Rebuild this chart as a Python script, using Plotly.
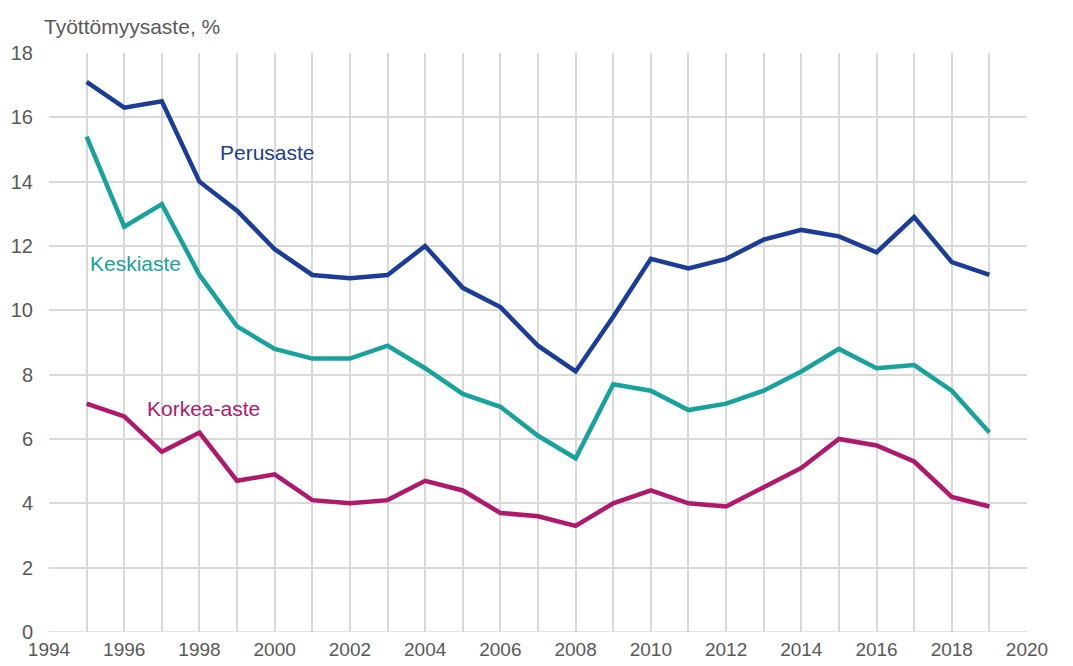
import plotly.graph_objects as go

# Työttömyysaste koulutusasteen mukaan, %
years = list(range(1995, 2020))
perusaste = [17.1, 16.3, 16.5, 14.0, 13.1, 11.9, 11.1, 11.0, 11.1, 12.0, 10.7, 10.1, 8.9,
             8.1, 9.8, 11.6, 11.3, 11.6, 12.2, 12.5, 12.3, 11.8, 12.9, 11.5, 11.1]
keskiaste = [15.4, 12.6, 13.3, 11.1, 9.5, 8.8, 8.5, 8.5, 8.9, 8.2, 7.4, 7.0, 6.1,
             5.4, 7.7, 7.5, 6.9, 7.1, 7.5, 8.1, 8.8, 8.2, 8.3, 7.5, 6.2]
korkea_aste = [7.1, 6.7, 5.6, 6.2, 4.7, 4.9, 4.1, 4.0, 4.1, 4.7, 4.4, 3.7, 3.6,
               3.3, 4.0, 4.4, 4.0, 3.9, 4.5, 5.1, 6.0, 5.8, 5.3, 4.2, 3.9]

FONT = "Arial, Liberation Sans, sans-serif"

series = [
    ("Perusaste", perusaste, "#1b3d98", 1999.8, 14.9),
    ("Keskiaste", keskiaste, "#17a39c", 1996.3, 11.45),
    ("Korkea-aste", korkea_aste, "#b0186c", 1998.1, 6.95),
]

fig = go.Figure()
for name, vals, color, lx, ly in series:
    fig.add_trace(go.Scatter(x=years, y=vals, mode="lines", name=name,
                             line=dict(color=color, width=4.5)))
    fig.add_annotation(x=lx, y=ly, text=name, showarrow=False,
                       font=dict(color=color, size=21, family=FONT))

fig.add_annotation(x=-0.007, y=1.045, xref="paper", yref="paper", xanchor="left", yanchor="middle",
                   text="Työttömyysaste, %", showarrow=False,
                   font=dict(color="#595959", size=21, family=FONT))

axis_common = dict(showgrid=True, gridcolor="#d9d9d9", gridwidth=1.5, zeroline=False,
                   showline=False, ticks="", automargin=False)

fig.update_xaxes(range=[1994, 2020], tickvals=list(range(1994, 2021, 2)),
                 minor=dict(dtick=1, showgrid=True, gridcolor="#d9d9d9", gridwidth=1.5),
                 ticklabelstandoff=4, tickfont=dict(color="#595959", size=19, family=FONT),
                 **axis_common)
fig.update_yaxes(range=[0, 18], dtick=2, ticklabelstandoff=15,
                 tickfont=dict(color="#595959", size=20, family=FONT), **axis_common)
# bottom border line
fig.add_shape(type="line", xref="paper", yref="y", x0=0, x1=1, y0=0, y1=0,
              line=dict(color="#d9d9d9", width=1.5))

fig.update_layout(width=1073, height=666, plot_bgcolor="white", paper_bgcolor="white",
                  margin=dict(l=49, r=46, t=53, b=34), showlegend=False)

# drop the default 8px body margin so the figure fills the window exactly
fig.write_html("out.html", config={"displayModeBar": False},
               post_script="document.body.style.margin='0';")
